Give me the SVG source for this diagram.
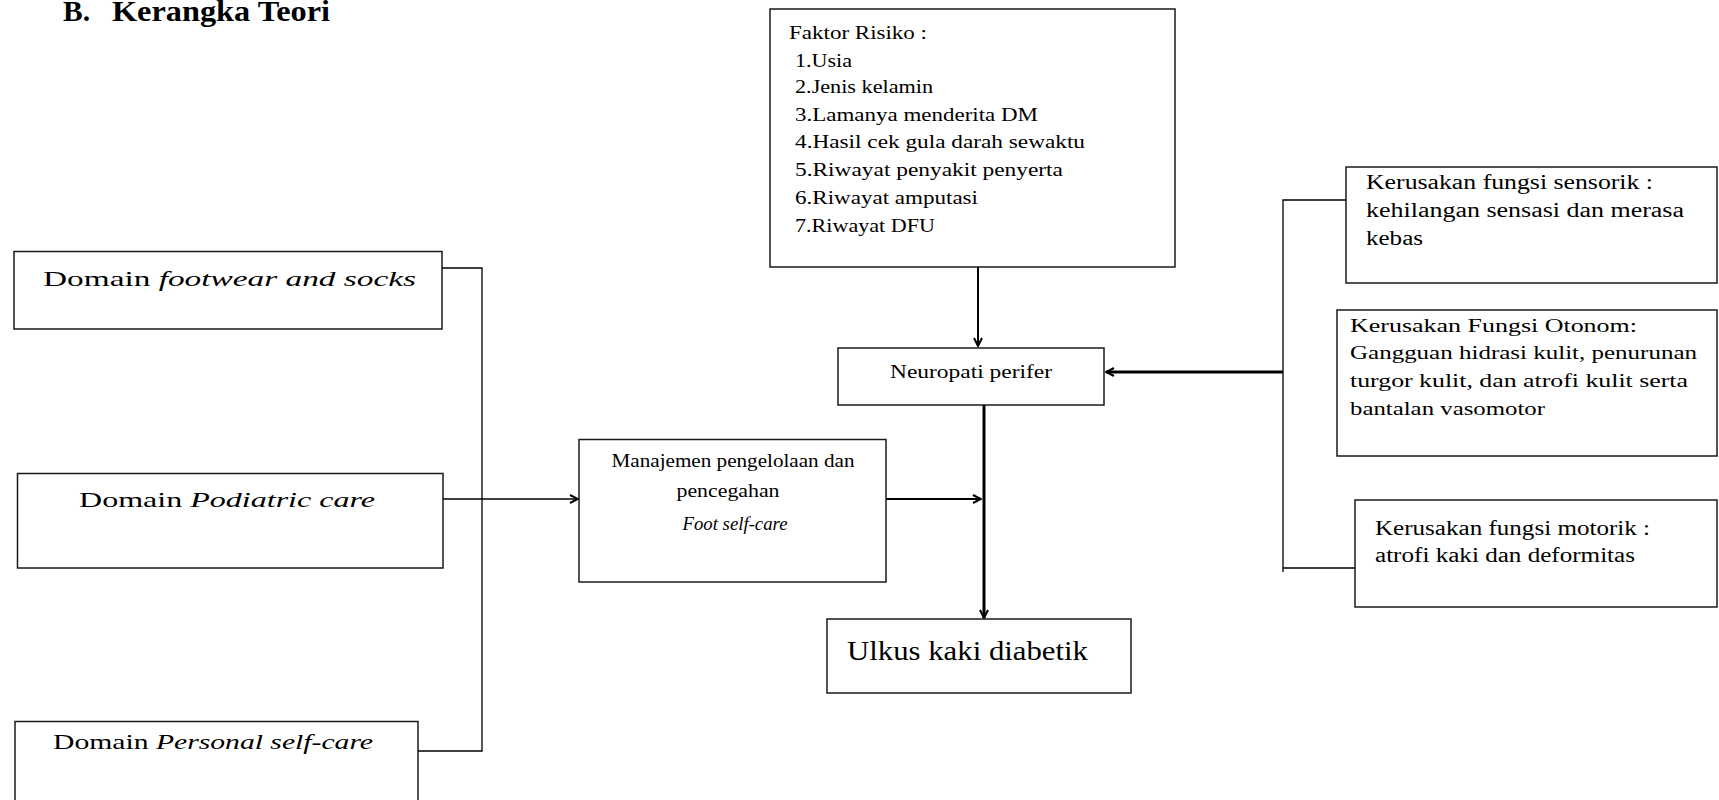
<svg xmlns="http://www.w3.org/2000/svg" width="1719" height="800" viewBox="0 0 1719 800">
<style>
  .box { fill: #fff; stroke: #1a1a1a; stroke-width: 1.5; }
  .t { font-family: "Liberation Serif", "Times New Roman", serif; fill: #000; }
  .it { font-style: italic; }
  .title { font-family: "Liberation Serif", "Times New Roman", serif; font-weight: bold; font-size: 30px; fill: #000; }
  .con { fill: none; stroke: #000; }
</style>
<defs>
  <marker id="ah" viewBox="0 0 10 10" refX="9" refY="5" markerWidth="10" markerHeight="10" markerUnits="userSpaceOnUse" orient="auto">
    <path d="M1,1 L9,5 L1,9" fill="none" stroke="#000" stroke-width="2"/>
  </marker>
</defs>
<rect width="1719" height="800" fill="#fff"/>

<g id="title">
  <text class="title" x="63" y="21" textLength="27" lengthAdjust="spacingAndGlyphs">B.</text>
  <text class="title" x="112" y="21" textLength="218" lengthAdjust="spacingAndGlyphs">Kerangka Teori</text>
</g>

<g id="connectors">
  <line class="con" x1="978" y1="267" x2="978" y2="346" stroke-width="2" marker-end="url(#ah)"/>
  <path class="con" d="M1346,200 H1283 V572 M1283,568 H1355" stroke-width="1.3"/>
  <line class="con" x1="1283" y1="372" x2="1106" y2="372" stroke-width="3" marker-end="url(#ah)"/>
  <line class="con" x1="984" y1="405" x2="984" y2="618" stroke-width="3" marker-end="url(#ah)"/>
  <line class="con" x1="886" y1="499" x2="981" y2="499" stroke-width="2" marker-end="url(#ah)"/>
  <path class="con" d="M442,268 H482 V751 H418" stroke-width="1.3"/>
  <line class="con" x1="443" y1="499" x2="578" y2="499" stroke-width="1.5" marker-end="url(#ah)"/>
</g>

<g id="faktor">
  <rect class="box" x="770" y="9" width="405" height="258"/>
  <text class="t" font-size="19" x="789" y="39" textLength="138" lengthAdjust="spacingAndGlyphs">Faktor Risiko :</text>
  <text class="t" font-size="19" x="795" y="67" textLength="57" lengthAdjust="spacingAndGlyphs">1.Usia</text>
  <text class="t" font-size="19" x="795" y="93" textLength="138" lengthAdjust="spacingAndGlyphs">2.Jenis kelamin</text>
  <text class="t" font-size="19" x="795" y="121" textLength="243" lengthAdjust="spacingAndGlyphs">3.Lamanya menderita DM</text>
  <text class="t" font-size="19" x="795" y="148" textLength="290" lengthAdjust="spacingAndGlyphs">4.Hasil cek gula darah sewaktu</text>
  <text class="t" font-size="19" x="795" y="176" textLength="268" lengthAdjust="spacingAndGlyphs">5.Riwayat penyakit penyerta</text>
  <text class="t" font-size="19" x="795" y="204" textLength="183" lengthAdjust="spacingAndGlyphs">6.Riwayat amputasi</text>
  <text class="t" font-size="19" x="795" y="232" textLength="140" lengthAdjust="spacingAndGlyphs">7.Riwayat DFU</text>
</g>

<g id="neuropati">
  <rect class="box" x="838" y="348" width="266" height="57"/>
  <text class="t" font-size="19" x="890" y="378" textLength="162" lengthAdjust="spacingAndGlyphs">Neuropati perifer</text>
</g>

<g id="sensorik">
  <rect class="box" x="1346" y="167" width="371" height="116"/>
  <text class="t" font-size="20" x="1366" y="189" textLength="287" lengthAdjust="spacingAndGlyphs">Kerusakan fungsi sensorik :</text>
  <text class="t" font-size="20" x="1366" y="217" textLength="318" lengthAdjust="spacingAndGlyphs">kehilangan  sensasi dan merasa</text>
  <text class="t" font-size="20" x="1366" y="245" textLength="57" lengthAdjust="spacingAndGlyphs">kebas</text>
</g>

<g id="otonom">
  <rect class="box" x="1337" y="310" width="380" height="146"/>
  <text class="t" font-size="19" x="1350" y="332" textLength="287" lengthAdjust="spacingAndGlyphs">Kerusakan Fungsi Otonom:</text>
  <text class="t" font-size="19" x="1350" y="359" textLength="347" lengthAdjust="spacingAndGlyphs">Gangguan hidrasi kulit,  penurunan</text>
  <text class="t" font-size="19" x="1350" y="387" textLength="338" lengthAdjust="spacingAndGlyphs">turgor kulit,  dan atrofi kulit  serta</text>
  <text class="t" font-size="19" x="1350" y="415" textLength="195" lengthAdjust="spacingAndGlyphs">bantalan vasomotor</text>
</g>

<g id="motorik">
  <rect class="box" x="1355" y="500" width="362" height="107"/>
  <text class="t" font-size="20" x="1375" y="535" textLength="275" lengthAdjust="spacingAndGlyphs">Kerusakan fungsi motorik :</text>
  <text class="t" font-size="20" x="1375" y="562" textLength="260" lengthAdjust="spacingAndGlyphs">atrofi kaki dan deformitas</text>
</g>

<g id="ulkus">
  <rect class="box" x="827" y="619" width="304" height="74"/>
  <text class="t" font-size="28" x="847" y="660" textLength="241" lengthAdjust="spacingAndGlyphs">Ulkus  kaki diabetik</text>
</g>

<g id="manajemen">
  <rect class="box" x="579" y="439.5" width="307" height="142.5"/>
  <text class="t" font-size="18" x="733" y="467" text-anchor="middle" textLength="243" lengthAdjust="spacingAndGlyphs">Manajemen  pengelolaan  dan</text>
  <text class="t" font-size="18" x="728" y="497" text-anchor="middle" textLength="103" lengthAdjust="spacingAndGlyphs">pencegahan</text>
  <text class="t it" font-size="18" x="735" y="530" text-anchor="middle" textLength="105" lengthAdjust="spacingAndGlyphs">Foot self-care</text>
</g>

<g id="footwear">
  <rect class="box" x="14" y="251.5" width="428" height="77.5"/>
  <text class="t" font-size="22" x="43" y="286" textLength="373" lengthAdjust="spacingAndGlyphs">Domain  <tspan class="it">footwear and socks</tspan></text>
</g>

<g id="podiatric">
  <rect class="box" x="17.5" y="473.5" width="425.5" height="94.5"/>
  <text class="t" font-size="22" x="79" y="507" textLength="296" lengthAdjust="spacingAndGlyphs">Domain  <tspan class="it">Podiatric care</tspan></text>
</g>

<g id="personal">
  <rect class="box" x="15" y="721.5" width="403" height="100"/>
  <text class="t" font-size="22" x="53" y="749" textLength="320" lengthAdjust="spacingAndGlyphs">Domain  <tspan class="it">Personal self-care</tspan></text>
</g>
</svg>
